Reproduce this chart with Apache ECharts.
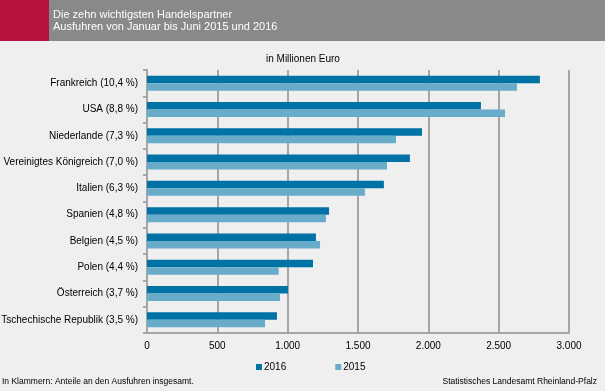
<!DOCTYPE html>
<html><head><meta charset="utf-8">
<script src="https://cdn.jsdelivr.net/npm/echarts@6/dist/echarts.min.js"></script>
<style>html,body{margin:0;padding:0;background:#eeefee;}#c{width:605px;height:391px;}</style>
</head><body><div id="c"></div>
<script>
const categories = ["Frankreich (10,4 %)","USA (8,8 %)","Niederlande (7,3 %)","Vereinigtes Königreich (7,0 %)","Italien (6,3 %)","Spanien (4,8 %)","Belgien (4,5 %)","Polen (4,4 %)","Österreich (3,7 %)","Tschechische Republik (3,5 %)"];
const values2016 = [2793,2374,1955,1869,1684,1294,1201,1180,1002,924];
const values2015 = [2630,2545,1770,1706,1549,1272,1230,936,945,839];
const xTicks = [0,500,1000,1500,2000,2500,3000];

const fmt = v => v.toString().replace(/\B(?=(\d{3})+(?!\d))/g, '.');
const chart = echarts.init(document.getElementById('c'));
const F = 'Liberation Sans, Arial, sans-serif';
chart.setOption({
  backgroundColor: '#eeefee',
  animation: false,
  grid: {left: 147, right: 36, top: 70, bottom: 58, containLabel: false, outerBoundsMode: 'none'},
  xAxis: {
    type: 'value', min: xTicks[0], max: xTicks[xTicks.length-1], interval: 500,
    axisLine: {show: true, lineStyle: {color: '#a6a6a6', width: 2}},
    axisTick: {show: false},
    splitLine: {show: true, lineStyle: {color: '#a6a6a6', width: 2}},
    axisLabel: {color: '#000', fontFamily: F, fontSize: 10, margin: 8, formatter: v => fmt(v)}
  },
  yAxis: {
    type: 'category', data: categories, inverse: true,
    axisLine: {show: true, lineStyle: {color: '#a6a6a6', width: 2}},
    axisTick: {show: true, length: 4, lineStyle: {color: '#a6a6a6', width: 2}},
    axisLabel: {color: '#000', fontFamily: F, fontSize: 10, margin: 9}
  },
  legend: {
    left: 251, top: 357, itemWidth: 6, itemHeight: 6, itemGap: 49,
    icon: 'rect', textStyle: {fontFamily: F, fontSize: 10, color: '#000', padding: [0,0,0,-3]},
    data: ['2016','2015']
  },
  series: [
    {name: '2016', type: 'bar', data: values2016, itemStyle: {color: '#0072a5'}, barGap: '0%', barCategoryGap: '43%'},
    {name: '2015', type: 'bar', data: values2015, itemStyle: {color: '#68acca'}, barGap: '0%', barCategoryGap: '43%'}
  ],
  graphic: [
    {type: 'rect', left: 0, top: 0, shape: {width: 49, height: 41}, style: {fill: '#b5123e'}},
    {type: 'rect', left: 49, top: 0, shape: {width: 556, height: 41}, style: {fill: '#898989'}},
    {type: 'text', left: 53, top: 9, style: {text: 'Die zehn wichtigsten Handelspartner', fill: '#fff', font: '11px ' + F}},
    {type: 'text', left: 53, top: 21, style: {text: 'Ausfuhren von Januar bis Juni 2015 und 2016', fill: '#fff', font: '11px ' + F}},
    {type: 'text', left: 266, top: 54, style: {text: 'in Millionen Euro', fill: '#000', font: '10px ' + F}},
    {type: 'text', left: 2, top: 377, style: {text: 'In Klammern: Anteile an den Ausfuhren insgesamt.', fill: '#000', font: '8.5px ' + F}},
    {type: 'text', right: 8, top: 377, style: {text: 'Statistisches Landesamt Rheinland-Pfalz', fill: '#000', font: '8.5px ' + F}}
  ]
});
</script></body></html>
